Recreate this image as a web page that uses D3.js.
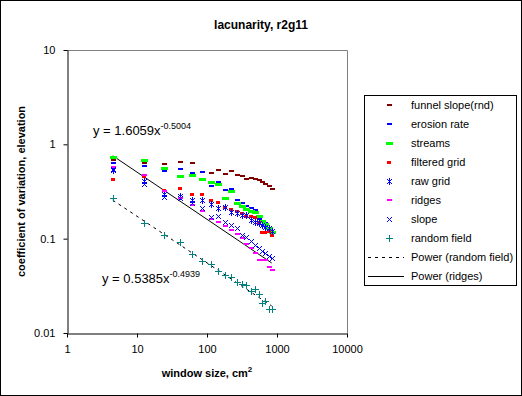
<!DOCTYPE html>
<html>
<head>
<meta charset="utf-8">
<script src="https://cdn.jsdelivr.net/npm/d3@7"></script>
<style>
  body { margin: 0; background: #fff; }
  text { font-family: "Liberation Sans", Arial, sans-serif; }
</style>
</head>
<body>
<svg id="chart" width="522" height="396"></svg>
<script>
// window sizes (cm^2), shared by every series
var windowSize = [4.5, 12.5, 24.5, 40.5, 60.5, 84.5, 112.5, 144.5, 180.5, 220.5,
                  264.5, 312.5, 364.5, 420.5, 480.5, 544.5, 612.5, 684.5, 760.5, 840.5];

var funnelSlope  = [0.68, 0.64, 0.62, 0.65, 0.63, null, 0.50, 0.53, 0.48, 0.52,
                    0.47, 0.46, 0.43, 0.44, 0.43, 0.415, 0.395, 0.38, 0.36, 0.336];
var erosionRate  = [0.64, 0.59, 0.525, 0.55, 0.50, 0.51, 0.364, 0.395, 0.33, 0.336,
                    0.26, 0.24, 0.223, 0.21, 0.2, 0.161, 0.155, 0.147, 0.12, 0.118];
var streams      = [0.74, 0.69, 0.565, 0.465, 0.476, 0.432, 0.40, 0.38, 0.271, 0.32,
                    0.24, 0.223, 0.207, 0.198, 0.19, 0.175, 0.154, 0.143, 0.13, 0.118];
var filteredGrid = [0.43, 0.46, 0.327, 0.347, 0.295, 0.295, 0.26, 0.245, 0.218, 0.205,
                    0.195, 0.188, 0.175, 0.172, 0.168, 0.15, 0.118, 0.117, 0.12, 0.109];
var rawGrid      = [0.534, 0.41, 0.30, 0.285, 0.257, 0.257, 0.233, 0.21, 0.218, 0.193,
                    0.185, 0.178, 0.18, 0.157, 0.151, 0.145, 0.14, 0.133, 0.129, 0.12];
var ridges       = [0.579, 0.472, 0.32, 0.272, 0.228, 0.197, 0.161, 0.152, 0.135, 0.124,
                    0.112, 0.101, 0.087, 0.08, 0.071, 0.06, 0.059, 0.059, 0.05, 0.046];
var slope        = [0.55, 0.38, 0.276, 0.27, 0.24, 0.21, 0.17, 0.175, 0.151, 0.139,
                    0.13, 0.11, 0.105, 0.094, 0.085, 0.08, 0.074, 0.07, 0.066, 0.063];
var randomField  = [0.268, 0.146, 0.109, 0.0914, 0.068, 0.058, 0.0538, 0.0454, 0.0411, 0.0389,
                    0.0349, 0.0328, 0.0322, 0.0278, 0.029, 0.0257, 0.0209, 0.0218, 0.0178, 0.0178];

var seriesNames  = ['funnel slope(rnd)', 'erosion rate', 'streams', 'filtered grid',
                    'raw grid', 'ridges', 'slope', 'random field'];
var seriesValues = [funnelSlope, erosionRate, streams, filteredGrid, rawGrid, ridges, slope, randomField];
var seriesColors = ['#800000', '#0000ff', '#00ff00', '#ff0000', '#0000ff', '#ff00ff', '#0000ff', '#008080'];
var seriesMarks  = ['dash', 'dash', 'dashWide', 'dashSmall', 'asterisk', 'dash', 'cross', 'plus'];

// power trend lines y = a * x^b
var trendNames  = ['Power (random field)', 'Power (ridges)'];
var trendCoef   = [0.5385, 1.6059];
var trendExp    = [-0.4939, -0.5004];
var trendDash   = ['3,4', null];
var trendLabels = [['0.5385', '-0.4939'], ['1.6059', '-0.5004']];

var xTicks = [1, 10, 100, 1000, 10000];
var yTicks = [0.01, 0.1, 1, 10];

var svg = d3.select('#chart');

svg.append('rect')
   .attr('x', 0.5).attr('y', 0.5)
   .attr('width', 521).attr('height', 395)
   .attr('fill', '#fff').attr('stroke', '#000');

var x = d3.scaleLog().domain([1, 10000]).range([67, 347]);
var y = d3.scaleLog().domain([0.01, 10]).range([333, 50]);

// plot area border (grey top & right)
svg.append('path')
   .attr('d', 'M' + x(1) + ',' + (y(10) + 0.5) + 'H' + (x(10000) + 0.5) + 'V' + y(0.01))
   .attr('fill', 'none').attr('stroke', '#808080');

var xAxis = svg.append('g')
   .attr('transform', 'translate(0,' + (y(0.01) + 0.5) + ')')
   .call(d3.axisBottom(x).tickValues(xTicks).tickFormat(d3.format('d'))
         .tickSize(4).tickSizeOuter(0).tickPadding(8));

var yAxis = svg.append('g')
   .attr('transform', 'translate(' + (x(1) + 0.5) + ',0)')
   .call(d3.axisLeft(y).tickValues(yTicks).tickFormat(function(d) { return String(d); })
         .tickSize(4).tickSizeOuter(0).tickPadding(8));

[xAxis, yAxis].forEach(function(g) {
  g.select('.domain').attr('stroke', '#000');
  g.selectAll('.tick line').attr('stroke', '#000');
  g.selectAll('.tick text').attr('fill', '#000')
   .style('font-family', '"Liberation Sans", Arial, sans-serif').style('font-size', '11px');
});

// title and axis titles
svg.append('text')
   .attr('x', 261).attr('y', 29).attr('text-anchor', 'middle')
   .style('font-size', '12px').style('font-weight', 'bold')
   .text('lacunarity, r2g11');

var xTitle = svg.append('text')
   .attr('x', 207).attr('y', 377).attr('text-anchor', 'middle')
   .style('font-size', '11px').style('font-weight', 'bold');
xTitle.append('tspan').text('window size, cm');
xTitle.append('tspan').attr('dy', -5).style('font-size', '8px').text('2');

svg.append('text')
   .attr('transform', 'translate(25,191.5) rotate(-90)')
   .attr('text-anchor', 'middle')
   .style('font-size', '11px').style('font-weight', 'bold')
   .text('coefficient of variation, elevation');

// marker shapes
function marker(g, type, color) {
  if (type === 'dash' || type === 'dashWide' || type === 'dashSmall') {
    var w = type === 'dashWide' ? 7 : (type === 'dashSmall' ? 4 : 5);
    var h = type === 'dash' ? 2 : 3;
    g.append('rect').attr('x', -Math.floor(w / 2)).attr('y', -Math.floor(h / 2))
     .attr('width', w).attr('height', h).attr('fill', color)
     .attr('shape-rendering', 'crispEdges');
  } else if (type === 'asterisk') {
    g.append('path').attr('d', 'M-2,-2L3,3M-2,3L3,-2M0.5,-3V4')
     .attr('stroke', color).attr('fill', 'none');
  } else if (type === 'cross') {
    g.append('path').attr('d', 'M-2,-2L3,3M-2,3L3,-2')
     .attr('stroke', color).attr('fill', 'none');
  } else if (type === 'plus') {
    g.append('path').attr('d', 'M-3,0.5H4M0.5,-3V4')
     .attr('stroke', color).attr('fill', 'none')
     .attr('shape-rendering', 'crispEdges');
  }
}

// trend lines
var trendLine = d3.line()
   .x(function(d) { return x(d[0]); })
   .y(function(d) { return y(d[1]); });

var xExtent = d3.extent(windowSize);
trendCoef.forEach(function(a, i) {
  var pts = xExtent.map(function(v) { return [v, a * Math.pow(v, trendExp[i])]; });
  svg.append('path').datum(pts)
     .attr('d', trendLine)
     .attr('fill', 'none').attr('stroke', '#000').attr('stroke-width', 1)
     .attr('stroke-dasharray', trendDash[i]);
});

// data points
seriesValues.forEach(function(vals, i) {
  var pts = windowSize.map(function(w, j) { return [w, vals[j]]; })
                      .filter(function(d) { return d[1] != null; });
  svg.append('g').selectAll('g').data(pts).enter()
     .append('g')
     .attr('transform', function(d) {
       return 'translate(' + Math.round(x(d[0])) + ',' + Math.round(y(d[1])) + ')';
     })
     .each(function() { marker(d3.select(this), seriesMarks[i], seriesColors[i]); });
});

// trend equations
var eqPos = [[102, 283], [93, 135]];
trendLabels.forEach(function(lab, i) {
  var t = svg.append('text')
     .attr('x', eqPos[i][0]).attr('y', eqPos[i][1])
     .style('font-size', '13px');
  t.append('tspan').text('y = ' + lab[0] + 'x');
  t.append('tspan').attr('dy', -6).style('font-size', '9px').text(lab[1]);
});

// legend
var legend = svg.append('g');
legend.append('rect')
   .attr('x', 364.5).attr('y', 95.5).attr('width', 152).attr('height', 190)
   .attr('fill', '#fff').attr('stroke', '#000');

var rowY = function(i) { return 105 + i * 19; };
seriesNames.forEach(function(name, i) {
  var g = legend.append('g').attr('transform', 'translate(389,' + rowY(i) + ')');
  marker(g, seriesMarks[i], seriesColors[i]);
  legend.append('text').attr('x', 411).attr('y', rowY(i) + 4)
     .style('font-size', '11px').text(name);
});
trendNames.forEach(function(name, i) {
  var k = seriesNames.length + i;
  legend.append('line')
     .attr('x1', 368).attr('x2', 404)
     .attr('y1', rowY(k) + 0.5).attr('y2', rowY(k) + 0.5)
     .attr('stroke', '#000').attr('stroke-dasharray', trendDash[i]);
  legend.append('text').attr('x', 411).attr('y', rowY(k) + 4)
     .style('font-size', '11px').text(name);
});
</script>
</body>
</html>
